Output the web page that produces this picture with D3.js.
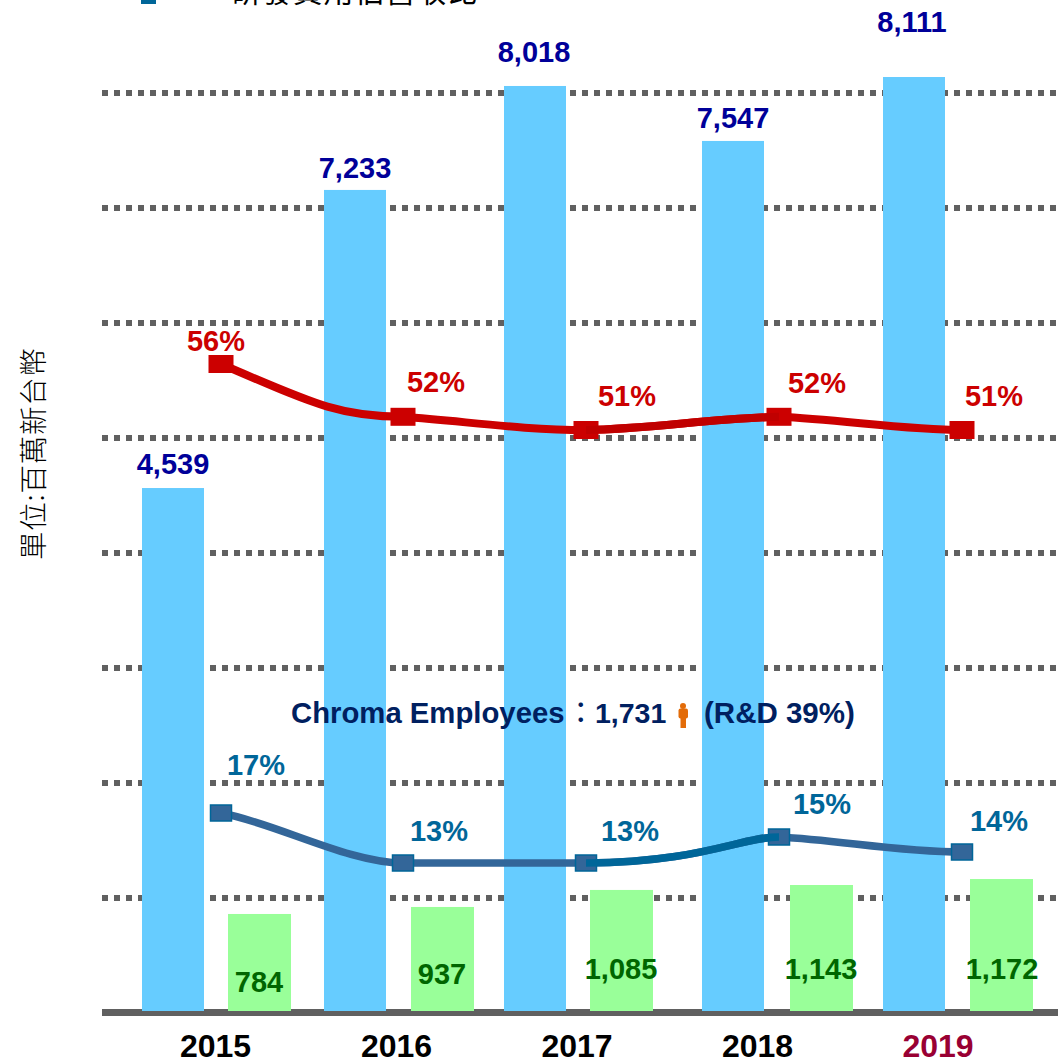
<!DOCTYPE html>
<html>
<head>
<meta charset="utf-8">
<script src="https://cdn.jsdelivr.net/npm/d3@7"></script>
<style>
html,body{margin:0;padding:0;background:#fff;overflow:hidden}
svg{display:block}
text{font-family:"Liberation Sans",Arial,sans-serif}
.cjk{font-family:"Noto Sans CJK TC","Noto Sans CJK SC",sans-serif}
</style>
</head>
<body>
<div id="chart"></div>
<script>
// ---- data ----
const years = ["2015","2016","2017","2018","2019"];
const revenueLabels = [4539,7233,8018,7547,8111];
const revenueDrawn = [4565,7157,8061,7583,8139];   // height of bars as drawn in the reference
const rdLabels = [784,937,1085,1143,1172];
const rdDrawn = [861,922,1070,1113,1165];          // height of bars as drawn in the reference
const grossMargin = [56,52,51,52,51];
const rdRatio = [17,13,13,15,14];
const rdRatioDrawn = [17,13,13,15.08,13.88];       // marker level as drawn in the reference
const gridTicks = [1000,2000,3000,4000,5000,6000,7000,8000];

// ---- layout ----
const W = 1058, H = 1064;
const fmt = d3.format(",");
const svg = d3.select("#chart").append("svg").attr("width",W).attr("height",H);

const y = d3.scaleLinear().domain([0,8000]).range([1013,93]);
const yRed = d3.scaleLinear().domain([51,56]).range([430,364]);
const yBlue = d3.scaleLinear().domain([13,17]).range([863,813]);
const xYear = d3.scaleOrdinal(years,[215.5,396.5,577,757.5,938]);
const xBlueBar = d3.scaleOrdinal(years,[142,324,504,702,883]);
const xGreenBar = d3.scaleOrdinal(years,[228,411,590,790,970]);
const xLine = d3.scaleOrdinal(years,[221,403,586,779,962]);
const barBottom = 1011;

const pos = {
  revenue:[[173,473.5],[355,177.5],[534,61.5],[733,127.5],[912,31.5]],
  red:[[216,350.5],[436,391.5],[627,405.5],[817,392.5],[994,405.5]],
  blue:[[256,774.5],[439,840.5],[630,840.5],[822,813.5],[999,830.5]],
  green:[[259,992],[442,984],[621,979],[821,979],[1002,979]]
};

// Bezier handle shapes for each line segment (fractions of the segment's dx, dy),
// so the smoothing follows the hand-adjusted curves of the reference.
const redShape = [[.5,.74,.65,1],[.35,.35,.65,1],[.33,.1,.67,.9],[.33,.2,.7,1]];
const blueShape = [[.3,.2,.7,1],[.33,0,.67,1],[.6,.03,.8,1],[.33,.2,.65,1]];
const shapedCurve = shape => ctx => {
  let i = -1, px, py;
  return {
    lineStart(){ i = -1; },
    lineEnd(){},
    areaStart(){}, areaEnd(){},
    point(x,yy){
      x=+x; yy=+yy;
      if(i<0) ctx.moveTo(x,yy);
      else {
        const s = shape[i], dx=x-px, dy=yy-py;
        ctx.bezierCurveTo(px+s[0]*dx,py+s[1]*dy,px+s[2]*dx,py+s[3]*dy,x,yy);
      }
      px=x; py=yy; i++;
    }
  };
};

// ---- grid ----
const gridG = svg.append("g").attr("transform","translate(102,0)")
  .call(d3.axisRight(y).tickValues(gridTicks).tickSize(956).tickFormat("").offset(0));
gridG.select(".domain").remove();
gridG.selectAll("line").attr("stroke","#606060").attr("stroke-width",6).attr("stroke-dasharray","6 6");

// ---- baseline + year axis ----
svg.append("line").attr("x1",102).attr("x2",1058).attr("y1",1012.5).attr("y2",1012.5)
  .attr("stroke","#606060").attr("stroke-width",7);
const xAxisG = svg.append("g").attr("transform","translate(0,1029)")
  .call(d3.axisBottom(xYear).tickSize(0).tickPadding(0).offset(0));
xAxisG.select(".domain").remove();
xAxisG.selectAll("text")
  .attr("y",28).attr("dy",0)
  .attr("font-family",'"Liberation Sans",Arial,sans-serif')
  .attr("font-size",32).attr("font-weight","bold")
  .attr("fill",d=>d==="2019"?"#990033":"#000");

// ---- bars ----
svg.append("g").selectAll("rect").data(years).join("rect")
  .attr("x",d=>xBlueBar(d)).attr("width",62)
  .attr("y",(d,i)=>y(revenueDrawn[i])).attr("height",(d,i)=>barBottom-y(revenueDrawn[i]))
  .attr("fill","#66ccff");
svg.append("g").selectAll("rect").data(years).join("rect")
  .attr("x",d=>xGreenBar(d)).attr("width",63)
  .attr("y",(d,i)=>y(rdDrawn[i])).attr("height",(d,i)=>barBottom-y(rdDrawn[i]))
  .attr("fill","#99ff99");

// ---- lines ----
function drawLine(vals,ys,shape,main,alt,lineW,mw,mh,mStroke){
  const gen = d3.line().x(d=>xLine(d.y)).y(d=>ys(d.v)).curve(shapedCurve(shape));
  const pts = years.map((yr,i)=>({y:yr,v:vals[i]}));
  const g = svg.append("g");
  g.append("path").attr("d",gen(pts)).attr("fill","none").attr("stroke",main).attr("stroke-width",lineW);
  g.selectAll("rect").data(pts).join("rect")
    .attr("x",d=>xLine(d.y)-mw/2).attr("y",d=>ys(d.v)-mh/2).attr("width",mw).attr("height",mh)
    .attr("fill",main).attr("stroke",mStroke).attr("stroke-width",mStroke==="none"?0:1.5);
  // the middle stretch is a different shade in the reference
  const id = "clip"+main.slice(1);
  svg.append("clipPath").attr("id",id).append("rect")
    .attr("x",xLine("2017")).attr("y",0).attr("width",xLine("2018")-xLine("2017")).attr("height",H);
  svg.append("path").attr("d",gen(pts)).attr("fill","none").attr("stroke",alt).attr("stroke-width",lineW)
    .attr("clip-path",`url(#${id})`);
}
drawLine(grossMargin,yRed,redShape,"#cc0000","#c00000",8,25,18,"none");
drawLine(rdRatioDrawn,yBlue,blueShape,"#336699","#006699",7.5,21,16,"#006699");

// ---- value labels ----
function labels(texts,p,color,size){
  svg.append("g").selectAll("text").data(texts).join("text")
    .attr("x",(d,i)=>p[i][0]).attr("y",(d,i)=>p[i][1])
    .attr("text-anchor","middle").attr("font-size",size).attr("font-weight","bold")
    .attr("fill",color).text(d=>d);
}
labels(revenueLabels.map(fmt),pos.revenue,"#000099",29);
labels(grossMargin.map(d=>d+"%"),pos.red,"#cc0000",29);
labels(rdRatio.map(d=>d+"%"),pos.blue,"#006699",29);
labels(rdLabels.map(fmt),pos.green,"#006600",29);

// ---- employees note ----
const note = (x,t,size,cls,weight) => svg.append("text").attr("class",cls||null).attr("x",x).attr("y",723)
  .attr("font-size",size).attr("font-weight",weight||"bold").attr("fill","#002060").text(t);
note(291,"Chroma Employees",29.3);
note(566,"：",29.5,"cjk","normal");
note(595,"1,731",28.5);
note(704,"(R&D 39%)",29.5);
const person = svg.append("g").attr("fill","#e36c09");
person.append("circle").attr("cx",683).attr("cy",706).attr("r",3);
person.append("rect").attr("x",678.5).attr("y",708.5).attr("width",9.5).attr("height",10).attr("rx",2);
person.append("rect").attr("x",680.5).attr("y",716).attr("width",5.5).attr("height",12);

// ---- unit title ----
svg.append("text").attr("class","cjk").attr("transform","translate(44,560) rotate(-90)")
  .attr("font-size",28.5).attr("font-weight",300).attr("textLength",212).attr("lengthAdjust","spacing")
  .attr("fill","#000").text("單位:百萬新台幣");

// ---- legend, cut off by the top edge ----
svg.append("rect").attr("x",141).attr("y",-10).attr("width",15).attr("height",14).attr("fill","#006699");
svg.append("text").attr("class","cjk").attr("x",231).attr("y",1.5).attr("font-size",30).attr("textLength",246)
  .attr("fill","#000").text("研發費用佔營收比");
</script>
</body>
</html>
